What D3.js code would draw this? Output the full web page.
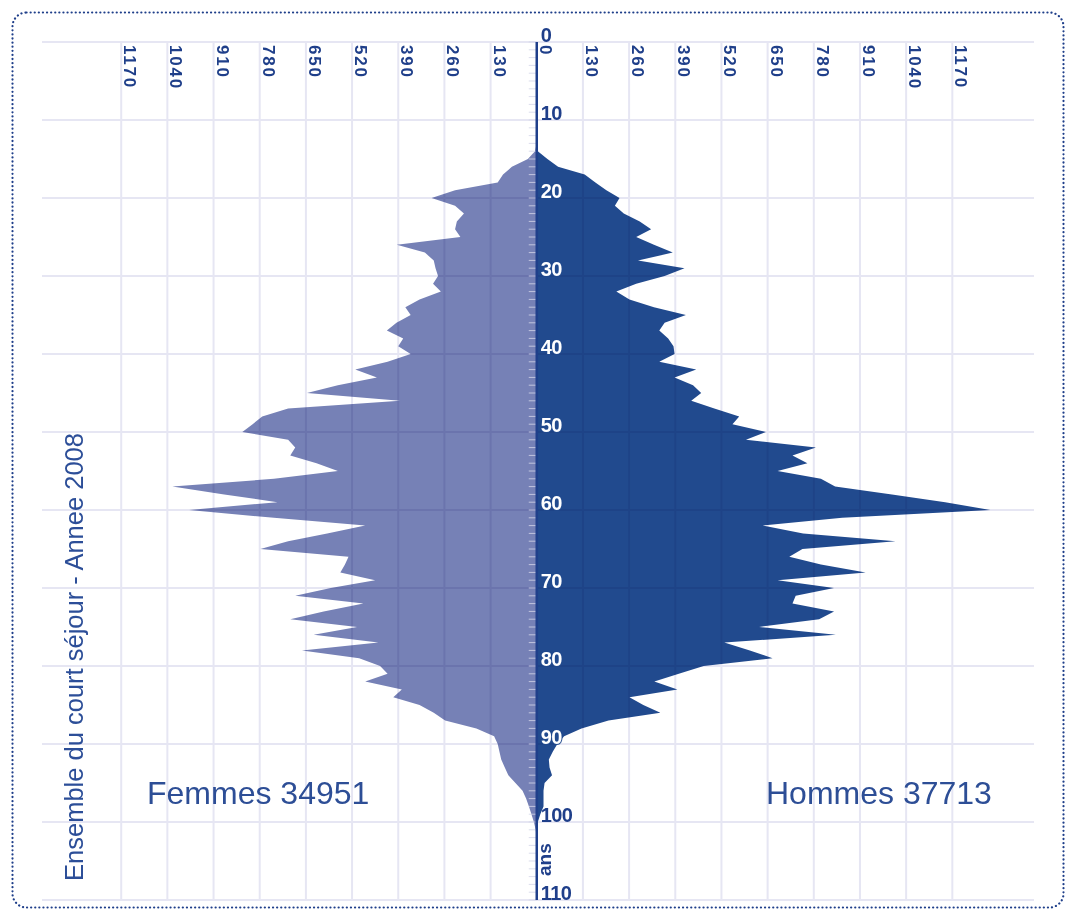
<!DOCTYPE html>
<html>
<head>
<meta charset="utf-8">
<script src="https://cdn.jsdelivr.net/npm/d3@7"></script>
<style>
  html, body { margin: 0; padding: 0; background: #fff; }
  svg { display: block; }
</style>
</head>
<body>
<div id="chart"></div>
<script>
// Effectifs par âge (index = âge en années, 0..102)
const femmes = [
  0, 0, 0, 0, 0, 0, 0, 0, 0, 0,
  0, 0, 0, 0, 5, 25, 70, 95, 110, 230,
  296, 230, 205, 225, 230, 215, 394, 315, 290, 285,
  278, 292, 270, 330, 370, 355, 395, 422, 376, 390,
  355, 420, 511, 450, 560, 647, 385, 700, 773, 800,
  829, 700, 680, 694, 620, 560, 740, 1026, 880, 730,
  979, 740, 483, 590, 700, 778, 530, 540, 553, 455,
  580, 680, 488, 600, 694, 506, 628, 446, 661, 500,
  441, 420, 483, 380, 404, 330, 290, 258, 170, 120,
  110, 105, 100, 90, 80, 60, 40, 30, 22, 15,
  8, 3, 0
];
const hommes = [
  0, 0, 0, 0, 0, 0, 0, 0, 0, 0,
  0, 0, 0, 0, 3, 30, 60, 135, 165, 196,
  233, 220, 245, 290, 322, 280, 330, 383, 285, 416,
  360, 280, 224, 261, 330, 420, 360, 345, 370, 385,
  388, 345, 449, 388, 440, 463, 435, 500, 570, 551,
  645, 589, 786, 720, 762, 678, 800, 840, 1000, 1150,
  1277, 860, 636, 750, 1010, 748, 711, 800, 926, 678,
  837, 729, 720, 837, 795, 626, 842, 528, 600, 664,
  470, 400, 331, 396, 261, 300, 348, 202, 126, 77,
  58, 45, 34, 36, 43, 22, 19, 19, 19, 10,
  3, 1, 0
];
const valueTicks = [0, 130, 260, 390, 520, 650, 780, 910, 1040, 1170];
const ageTicks = [0, 10, 20, 30, 40, 50, 60, 70, 80, 90, 100, 110];
const totalFemmes = 34951;
const totalHommes = 37713;
const titre = "Ensemble du court séjour - Annee 2008";

const w = 1071, h = 913;
const blue = "#1f3f8a";

const svg = d3.select("#chart").append("svg")
  .attr("width", w)
  .attr("height", h);

// Cadre pointillé
svg.append("rect")
  .attr("x", 12.5).attr("y", 12.5)
  .attr("width", 1051).attr("height", 895)
  .attr("rx", 14)
  .attr("fill", "none")
  .attr("stroke", blue)
  .attr("stroke-width", 2.2)
  .attr("stroke-linecap", "round")
  .attr("stroke-dasharray", "0.1 4");

// Échelles
const x = d3.scaleLinear().domain([-1393, 1400]).range([42, 1034]);
const y = d3.scaleLinear().domain([0, 110]).range([42, 900]);
const cx = x(0);

const dataF = femmes.map((v, i) => ({ age: i, v }));
const dataH = hommes.map((v, i) => ({ age: i, v }));

// Femmes (gauche)
svg.append("path")
  .datum(dataF)
  .attr("fill", "#7681b6")
  .attr("d", d3.area()
    .y(d => y(d.age))
    .x0(cx)
    .x1(d => x(-d.v)));

// Hommes (droite)
svg.append("path")
  .datum(dataH)
  .attr("fill", "#214a8e")
  .attr("d", d3.area()
    .y(d => y(d.age))
    .x0(cx)
    .x1(d => x(d.v)));

// Grille (par-dessus, en multiplication)
const grid = svg.append("g").style("mix-blend-mode", "multiply");
const vTicks = valueTicks.filter(v => v > 0).flatMap(v => [-v, v]);
grid.selectAll("line.v")
  .data(vTicks)
  .enter().append("line")
  .attr("class", "v")
  .attr("x1", d => x(d)).attr("x2", d => x(d))
  .attr("y1", y(0)).attr("y2", y(110))
  .attr("stroke", "#e6e6f3")
  .attr("stroke-width", 2);
grid.selectAll("line.h")
  .data(ageTicks)
  .enter().append("line")
  .attr("class", "h")
  .attr("x1", 42).attr("x2", 1034)
  .attr("y1", d => y(d)).attr("y2", d => y(d))
  .attr("stroke", "#e6e6f3")
  .attr("stroke-width", 2);

// Petites graduations d'âge (à gauche de l'axe)
svg.append("g")
  .selectAll("line")
  .data(d3.range(0, 111))
  .enter().append("line")
  .attr("x1", cx - 8).attr("x2", cx)
  .attr("y1", d => y(d)).attr("y2", d => y(d))
  .attr("stroke", "#d3d6e8")
  .attr("stroke-opacity", 0.8)
  .attr("stroke-width", 1);

// Axe central
svg.append("line")
  .attr("x1", cx).attr("x2", cx)
  .attr("y1", y(0)).attr("y2", y(110))
  .attr("stroke", blue)
  .attr("stroke-width", 2.5);

// Étiquettes des valeurs (verticales, en haut)
const vLabels = valueTicks.flatMap(v => v === 0 ? [0] : [-v, v]);
svg.append("g")
  .selectAll("text")
  .data(vLabels)
  .enter().append("text")
  .attr("transform", d => `translate(${x(d) + 3},45) rotate(90)`)
  .attr("font-family", "'Liberation Sans', Arial, sans-serif")
  .attr("font-weight", "bold")
  .attr("font-size", 17)
  .attr("letter-spacing", 1.8)
  .attr("fill", blue)
  .text(d => Math.abs(d));

// Étiquettes des âges
svg.append("g")
  .selectAll("text")
  .data(ageTicks)
  .enter().append("text")
  .attr("x", cx + 4)
  .attr("y", d => y(d) - 0.5)
  .attr("font-family", "'Liberation Sans', Arial, sans-serif")
  .attr("font-weight", "bold")
  .attr("font-size", 20)
  .attr("letter-spacing", -0.6)
  .attr("fill", d => (d >= 20 && d <= 90) ? "#fff" : blue)
  .attr("stroke", d => (d >= 20 && d <= 90) ? "#214a8e" : "none")
  .attr("stroke-width", 2)
  .attr("paint-order", "stroke")
  .text(d => d);

// "ans"
svg.append("text")
  .attr("transform", "translate(551,876) rotate(-90)")
  .attr("font-family", "'Liberation Sans', Arial, sans-serif")
  .attr("font-weight", "bold")
  .attr("font-size", 19)
  .attr("fill", blue)
  .text("ans");

// Titre vertical
svg.append("text")
  .attr("transform", "translate(83,657) rotate(-90)")
  .attr("text-anchor", "middle")
  .attr("font-family", "'Liberation Sans', Arial, sans-serif")
  .attr("font-size", 25.5)
  .attr("fill", "#2c4e98")
  .text(titre);

// Totaux
svg.append("text")
  .attr("x", 147).attr("y", 804)
  .attr("font-family", "'Liberation Sans', Arial, sans-serif")
  .attr("font-size", 32)
  .attr("fill", "#2d4e96")
  .text("Femmes " + totalFemmes);

svg.append("text")
  .attr("x", 766).attr("y", 804)
  .attr("font-family", "'Liberation Sans', Arial, sans-serif")
  .attr("font-size", 32)
  .attr("fill", "#2d4e96")
  .text("Hommes " + totalHommes);
</script>
</body>
</html>
